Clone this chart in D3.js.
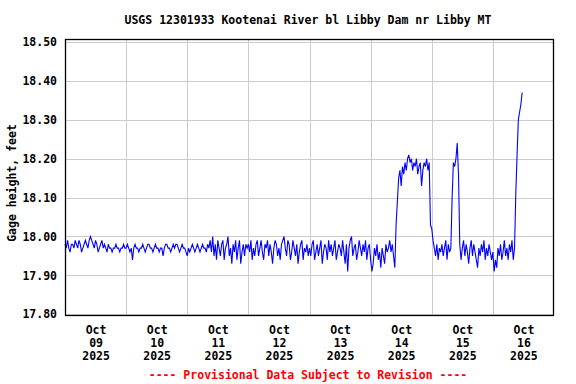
<!DOCTYPE html>
<html>
<head>
<meta charset="utf-8">
<script src="https://cdn.jsdelivr.net/npm/d3@7"></script>
<style>
  body { margin: 0; background: #fff; }
  text { font-family: "DejaVu Sans Mono", monospace; font-weight: bold; }
</style>
</head>
<body>
<div id="chart"></div>
<script>
// gage height, feet, every 30 minutes from midnight of each day
const oct09 = [17.98, 17.97, 17.99, 17.97, 17.96, 17.98, 17.98, 17.97, 17.99, 17.98, 17.97, 17.99,
  17.98, 17.96, 17.97, 17.98, 17.99, 17.98, 17.97, 17.99, 18.00, 17.99, 17.98, 17.97,
  17.99, 17.98, 17.96, 17.97, 17.98, 17.99, 17.97, 17.98, 17.97, 17.96, 17.98, 17.97,
  17.97, 17.96, 17.97, 17.97, 17.98, 17.97, 17.97, 17.96, 17.97, 17.97, 17.98, 17.97];
const oct10 = [17.97, 17.98, 17.97, 17.96, 17.97, 17.94, 17.97, 17.98, 17.97, 17.97, 17.96, 17.97,
  17.97, 17.98, 17.97, 17.96, 17.97, 17.98, 17.98, 17.97, 17.97, 17.96, 17.97, 17.98,
  17.97, 17.97, 17.96, 17.97, 17.97, 17.95, 17.97, 17.98, 17.98, 17.97, 17.97, 17.96,
  17.97, 17.98, 17.97, 17.98, 17.98, 17.97, 17.96, 17.97, 17.98, 17.97, 17.97, 17.96];
const oct11 = [17.95, 17.97, 17.96, 17.97, 17.98, 17.97, 17.96, 17.97, 17.98, 17.97, 17.96, 17.97,
  17.98, 17.97, 17.97, 17.96, 17.98, 17.97, 17.99, 17.96, 18.00, 17.95, 17.98, 17.94,
  17.99, 17.97, 17.95, 17.98, 17.99, 17.94, 17.97, 17.98, 18.00, 17.95, 17.97, 17.93,
  17.98, 17.96, 17.99, 17.94, 17.97, 17.99, 17.93, 17.96, 17.98, 17.95, 17.98, 17.97];
const oct12 = [17.98, 17.96, 17.99, 17.94, 17.97, 17.95, 17.98, 17.99, 17.95, 17.97, 17.99, 17.96,
  17.94, 17.98, 17.97, 17.99, 17.95, 17.98, 17.96, 17.93, 17.97, 17.99, 17.98, 17.95,
  17.97, 17.94, 17.98, 17.99, 18.00, 17.97, 17.95, 17.99, 17.98, 17.94, 17.96, 17.99,
  17.97, 17.95, 17.98, 17.93, 17.96, 17.98, 17.99, 17.94, 17.97, 17.96, 17.98, 17.95];
const oct13 = [17.97, 17.95, 17.98, 17.99, 17.94, 17.96, 17.98, 17.95, 17.97, 17.99, 17.93, 17.96,
  17.98, 17.97, 17.94, 17.99, 17.96, 17.98, 17.95, 17.97, 17.99, 17.94, 17.96, 17.98,
  17.97, 17.95, 17.99, 17.96, 17.93, 17.98, 17.91, 17.97, 17.99, 18.00, 17.95, 17.97,
  17.98, 17.94, 17.96, 17.99, 17.97, 17.95, 17.98, 17.96, 17.99, 17.94, 17.97, 17.98];
const oct14 = [17.94, 17.91, 17.93, 17.97, 17.95, 17.98, 17.94, 17.96, 17.92, 17.97, 17.95, 17.93,
  17.98, 17.96, 17.97, 17.99, 17.96, 17.98, 17.95, 17.92, 18.03, 18.09, 18.15, 18.17,
  18.13, 18.18, 18.16, 18.19, 18.17, 18.20, 18.21, 18.19, 18.20, 18.17, 18.19, 18.18,
  18.20, 18.16, 18.18, 18.19, 18.13, 18.17, 18.19, 18.18, 18.20, 18.17, 18.19, 18.03];
const oct15 = [18.02, 17.99, 17.97, 17.95, 17.98, 17.94, 17.97, 17.96, 17.98, 17.95, 17.97, 17.99,
  17.94, 17.98, 17.96, 17.97, 18.10, 18.19, 18.18, 18.20, 18.24, 18.16, 17.98, 17.94,
  17.97, 17.99, 17.95, 17.98, 17.96, 17.93, 17.97, 17.99, 17.95, 17.98, 17.96, 17.94,
  17.92, 17.97, 17.95, 17.98, 17.96, 17.99, 17.94, 17.97, 17.95, 17.98, 17.96, 17.94];
const oct16 = [17.96, 17.91, 17.94, 17.92, 17.97, 17.95, 17.98, 17.94, 17.96, 17.99, 17.95, 17.97,
  17.94, 17.98, 17.96, 17.99, 17.94, 17.97, 18.11, 18.21, 18.30, 18.32, 18.34, 18.37];

const days = [oct09, oct10, oct11, oct12, oct13, oct14, oct15, oct16];
const dayLabels = ['09', '10', '11', '12', '13', '14', '15', '16'];
const yTicks = [17.8, 17.9, 18.0, 18.1, 18.2, 18.3, 18.4, 18.5];

const title = 'USGS 12301933 Kootenai River bl Libby Dam nr Libby MT';
const yLabel = 'Gage height, feet';
const footer = '---- Provisional Data Subject to Revision ----';

const width = 576, height = 384;
const margin = {top: 39, right: 22, bottom: 68, left: 65};

const start = new Date(2025, 9, 9);
const end = new Date(2025, 9, 17);

const data = [];
days.forEach(function (vals, d) {
  vals.forEach(function (v, i) {
    data.push({t: d3.timeMinute.offset(d3.timeDay.offset(start, d), i * 30), v: v});
  });
});

const svg = d3.select('#chart').append('svg')
  .attr('width', width)
  .attr('height', height);

const x = d3.scaleTime()
  .domain([start, end])
  .range([margin.left, width - margin.right]);
const y = d3.scaleLinear()
  .domain([17.7956, 18.5077])
  .range([height - margin.bottom, margin.top]);

// grid
svg.append('g')
  .selectAll('line.h')
  .data(yTicks)
  .enter().append('line')
  .attr('x1', margin.left).attr('x2', width - margin.right)
  .attr('y1', d => Math.round(y(d)) + 0.5).attr('y2', d => Math.round(y(d)) + 0.5)
  .attr('stroke', '#cccccc');

svg.append('g')
  .selectAll('line.v')
  .data(d3.range(1, 8).map(d => d3.timeDay.offset(start, d)))
  .enter().append('line')
  .attr('x1', d => Math.round(x(d)) + 0.5).attr('x2', d => Math.round(x(d)) + 0.5)
  .attr('y1', margin.top).attr('y2', height - margin.bottom)
  .attr('stroke', '#cccccc');

// data line
svg.append('path')
  .datum(data)
  .attr('fill', 'none')
  .attr('stroke', '#0000ff')
  .attr('stroke-width', 1.1)
  .attr('d', d3.line().x(d => x(d.t)).y(d => y(d.v)));

// frame
svg.append('rect')
  .attr('x', margin.left + 0.5)
  .attr('y', margin.top + 0.5)
  .attr('width', width - margin.left - margin.right - 1)
  .attr('height', height - margin.top - margin.bottom - 1)
  .attr('fill', 'none')
  .attr('stroke', '#000')
  .attr('stroke-width', 1.3);

// y axis
const yAxis = svg.append('g')
  .attr('transform', `translate(${margin.left},0)`)
  .call(d3.axisLeft(y).tickValues(yTicks).tickSize(0).tickPadding(8).tickFormat(d3.format('.2f')));
yAxis.select('.domain').remove();
yAxis.selectAll('text')
  .attr('font-size', 11.5)
  .attr('font-family', '"DejaVu Sans Mono", monospace')
  .attr('font-weight', 'bold')
  .attr('fill', '#000');

// x axis: labels at noon of each day
const noon = d3.range(8).map(d => d3.timeHour.offset(d3.timeDay.offset(start, d), 12));
const xAxis = svg.append('g')
  .attr('transform', `translate(0,${height - margin.bottom})`)
  .call(d3.axisBottom(x).tickValues(noon).tickSize(0).tickFormat(''));
xAxis.select('.domain').remove();
xAxis.selectAll('.tick')
  .each(function (d, i) {
    const t = d3.select(this).append('text')
      .attr('fill', '#000')
      .attr('font-size', 11.5)
      .attr('font-family', '"DejaVu Sans Mono", monospace')
      .attr('font-weight', 'bold')
      .attr('text-anchor', 'middle');
    ['Oct', dayLabels[i], '2025'].forEach(function (s, j) {
      t.append('tspan').attr('x', 0).attr('y', 18 + j * 13).text(s);
    });
  });

svg.append('text')
  .attr('x', 308)
  .attr('y', 24)
  .attr('text-anchor', 'middle')
  .attr('font-size', 11.5)
  .text(title);

svg.append('text')
  .attr('transform', 'translate(16,183) rotate(-90)')
  .attr('text-anchor', 'middle')
  .attr('font-size', 11.5)
  .text(yLabel);

svg.append('text')
  .attr('x', 308)
  .attr('y', 379)
  .attr('text-anchor', 'middle')
  .attr('font-size', 11.5)
  .attr('fill', '#ff0000')
  .text(footer);
</script>
</body>
</html>
